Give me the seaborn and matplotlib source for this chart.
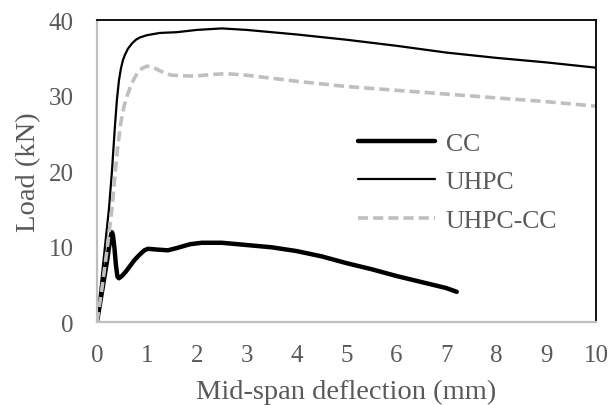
import matplotlib
matplotlib.use("Agg")
import matplotlib.pyplot as plt
import seaborn as sns

# load-deflection curves
cc_x = [0, 0.1, 0.2, 0.25, 0.28, 0.30, 0.32, 0.35, 0.38, 0.41, 0.44, 0.5, 0.58,
        0.66, 0.75, 0.85, 0.95, 1.02, 1.2, 1.42, 1.6, 1.86, 2.1, 2.5, 3.0, 3.5,
        4.0, 4.5, 5.0, 5.5, 6.0, 6.5, 7.0, 7.21]
cc_y = [0, 4, 8, 10.3, 11.5, 11.9, 11.5, 9.8, 7.5, 6.0, 5.8, 6.1, 6.7,
        7.4, 8.2, 8.9, 9.5, 9.7, 9.6, 9.5, 9.8, 10.3, 10.5, 10.5, 10.2, 9.9,
        9.4, 8.7, 7.8, 7.0, 6.1, 5.3, 4.5, 4.0]

uhpc_x = [0, 0.08, 0.16, 0.24, 0.30, 0.36, 0.40, 0.44, 0.48, 0.52, 0.56, 0.62,
          0.70, 0.78, 0.86, 1.0, 1.26, 1.6, 2.0, 2.5, 3.0, 4.0, 5.0, 6.0, 7.0,
          8.0, 9.0, 10.0]
uhpc_y = [0, 5, 10, 15, 20, 26, 29.5, 32, 33.6, 34.7, 35.4, 36.2,
          36.9, 37.4, 37.7, 38.0, 38.3, 38.4, 38.7, 38.9, 38.7, 38.1, 37.4, 36.6, 35.7,
          35.0, 34.4, 33.7]

uhpc_cc_x = [0, 0.1, 0.2, 0.3, 0.36, 0.42, 0.48, 0.54, 0.6, 0.66, 0.74, 0.82, 0.9,
             1.0, 1.1, 1.2, 1.35, 1.5, 1.8, 2.0, 2.3, 2.6, 3.0, 4.0, 5.0, 6.0,
             7.0, 8.0, 9.0, 10.0]
uhpc_cc_y = [0, 4.5, 9.5, 15, 19.5, 23.5, 26.5, 28.5, 29.9, 31.0, 32.2, 33.1, 33.6,
             33.9, 33.8, 33.5, 33.0, 32.7, 32.6, 32.6, 32.8, 32.9, 32.7, 31.9, 31.2, 30.7,
             30.2, 29.7, 29.2, 28.6]

x_ticks = list(range(0, 11))
y_ticks = [0, 10, 20, 30, 40]

sns.set_style("white")
plt.rcParams["font.family"] = ["Liberation Serif", "DejaVu Serif"]

text_col = "#595959"
axis_col = "#bfbfbf"
dash = [2.8, 1.4]

fig = plt.figure(figsize=(6.1, 4.06), dpi=100)
ax = fig.add_axes([0.159, 0.2044, 0.818, 0.7436])

sns.lineplot(x=cc_x, y=cc_y, ax=ax, color="black", linewidth=3.2,
             sort=False, estimator=None, label="CC")
sns.lineplot(x=uhpc_x, y=uhpc_y, ax=ax, color="black", linewidth=1.6,
             sort=False, estimator=None, label="UHPC")
sns.lineplot(x=uhpc_cc_x, y=uhpc_cc_y, ax=ax, color=axis_col, linewidth=2.6,
             sort=False, estimator=None, label="UHPC-CC")
for ln in ax.lines:
    ln.set_solid_joinstyle("round")
    ln.set_dash_joinstyle("round")
ax.lines[-1].set_dashes(dash)

ax.set_xlim(0, 10)
ax.set_ylim(0, 40)
ax.set_xticks(x_ticks)
ax.set_yticks(y_ticks)

for side in ["left", "bottom"]:
    ax.spines[side].set_color(axis_col)
    ax.spines[side].set_linewidth(1.6)
for side in ["top", "right"]:
    ax.spines[side].set_color("black")
    ax.spines[side].set_linewidth(1.3)

ax.tick_params(axis="both", direction="out", length=5, width=1.3,
               color=axis_col, labelcolor=text_col, labelsize=18)
ax.tick_params(axis="x", pad=11)
ax.tick_params(axis="y", pad=12)

ax.set_xlabel("Mid-span deflection (mm)", fontsize=20.5, color=text_col, labelpad=9)
ax.set_ylabel("Load (kN)", fontsize=20.5, color=text_col, labelpad=5)

leg = ax.legend(loc="upper left", bbox_to_anchor=(0.503, 0.665), frameon=False,
                fontsize=18.5, labelcolor=text_col, handlelength=3.0,
                handletextpad=0.4, labelspacing=0.62, borderaxespad=0)
leg.get_lines()[-1].set_dashes(dash)

fig.savefig("out.png", dpi=100)
